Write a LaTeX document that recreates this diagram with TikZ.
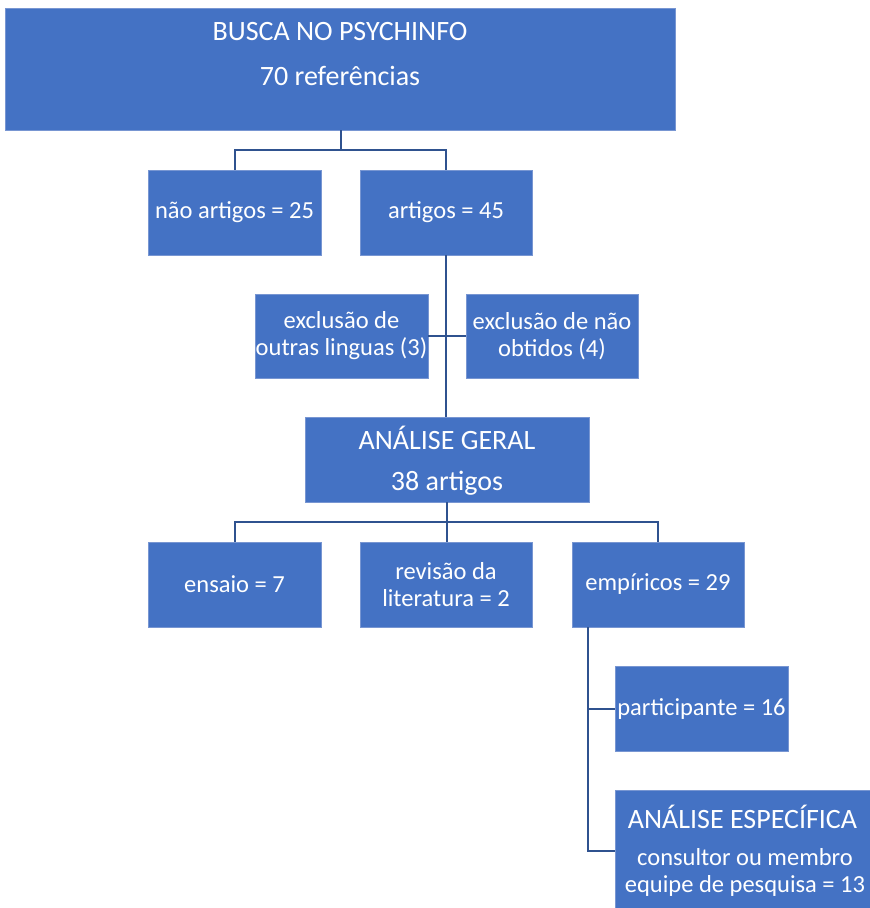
\documentclass[tikz,border=0pt]{standalone}
\usepackage{fontspec}
\setmainfont{Carlito}
\definecolor{boxblue}{RGB}{68,114,196}
\definecolor{boxedge}{RGB}{120,150,210}
\definecolor{linkblue}{RGB}{47,82,143}
\newcommand{\bigtxt}{\fontsize{28}{30}\selectfont}
\newcommand{\smalltxt}{\fontsize{24.5}{27}\selectfont}
\begin{document}
\begin{tikzpicture}[x=1pt,y=-1pt,
  box/.style={fill=boxblue,draw=boxedge,line width=0.6pt,text=white,inner sep=0pt,align=center,font=\smalltxt},
  txt/.style={text=white,inner sep=0pt,align=center},
  link/.style={draw=linkblue,line width=2pt}]
\useasboundingbox (0,0) rectangle (870,908);
% boxes
\node[box,minimum width=670pt,minimum height=122pt] (top) at (340,69) {};
\node[txt,font=\bigtxt] (topa) at (340,32) {BUSCA NO PSYCHINFO};
\node[txt,font=\bigtxt] (topb) at (340,76) {70 referências};
\node[box,minimum width=173pt,minimum height=85pt] (nart) at (234.5,212.5) {não artigos = 25};
\node[box,minimum width=172pt,minimum height=85pt] (art) at (446,212.5) {artigos = 45};
\node[box,minimum width=173pt,minimum height=84pt] (exl) at (341.5,336) {exclusão de\\outras linguas (3)};
\node[box,minimum width=172pt,minimum height=84pt] (exn) at (552,336) {exclusão de não\\obtidos (4)};
\node[box,minimum width=284pt,minimum height=85pt] (geral) at (447,459.5) {};
\node[txt,font=\bigtxt] (gerala) at (447,438) {ANÁLISE GERAL};
\node[txt,font=\bigtxt] (geralb) at (447,483) {38 artigos};
\node[box,minimum width=173pt,minimum height=85pt] (ens) at (234.5,584.5) {ensaio = 7};
\node[box,minimum width=172pt,minimum height=85pt] (rev) at (446,584.5) {revisão da\\literatura = 2};
\node[box,minimum width=172pt,minimum height=85pt] (emp) at (658,584.5) {empíricos = 29};
\node[box,minimum width=173pt,minimum height=85pt] (part) at (701.5,708.5) {participante = 16};
\node[box,minimum width=255pt,minimum height=118pt] (esp) at (742.5,849) {};
\node[txt,font=\bigtxt] (espa) at (742.5,817) {ANÁLISE ESPECÍFICA};
\node[txt,font=\smalltxt] (espb) at (745,872) {consultor ou membro\\equipe de pesquisa = 13};
% connectors
\coordinate (j1) at (341,150);
\draw[link] (top.south -| j1) -- (j1);
\draw[link] (nart.north) |- (j1) -| (art.north);
\draw[link] (art.south) -- (geral.north -| art.south);
\draw[link] (exl.east) -- (exn.west);
\coordinate (j2) at (447,522);
\draw[link] (geral.south -| j2) -- (j2);
\draw[link] (ens.north) |- (j2) -| (emp.north);
\draw[link] (j2) -- (rev.north -| j2);
\coordinate (j3) at (588,851);
\draw[link] (emp.south -| j3) -- (j3) -- (esp.west |- j3);
\draw[link] (part.west) -- (part.west -| j3);
\end{tikzpicture}
\end{document}
